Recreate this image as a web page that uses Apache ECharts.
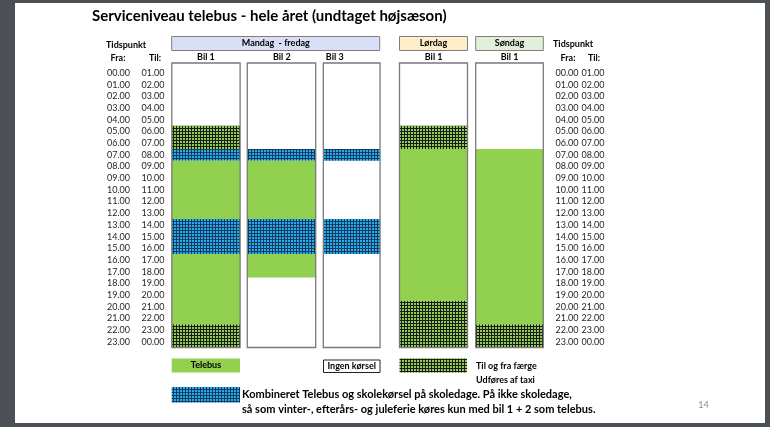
<!DOCTYPE html>
<html><head><meta charset="utf-8">
<script src="https://cdn.jsdelivr.net/npm/echarts@6/dist/echarts.min.js"></script>
<style>html,body{margin:0;padding:0;background:#4b5057}#c{width:770px;height:427px}</style>
</head><body><div id="c"></div>
<script>
// ---------- data ----------
const titleText = 'Serviceniveau telebus - hele året (undtaget højsæson)';
const columnNames = ['Bil 1', 'Bil 2', 'Bil 3', 'Bil 1', 'Bil 1'];
const dayHeaders = ['Mandag  - fredag', 'Lørdag', 'Søndag'];
const hours = [0,1,2,3,4,5,6,7,8,9,10,11,12,13,14,15,16,17,18,19,20,21,22,23];
const fraLabels = ['00.00','01.00','02.00','03.00','04.00','05.00','06.00','07.00','08.00','09.00','10.00','11.00',
                   '12.00','13.00','14.00','15.00','16.00','17.00','18.00','19.00','20.00','21.00','22.00','23.00'];
const tilLabels = ['01.00','02.00','03.00','04.00','05.00','06.00','07.00','08.00','09.00','10.00','11.00','12.00',
                   '13.00','14.00','15.00','16.00','17.00','18.00','19.00','20.00','21.00','22.00','23.00','00.00'];
// segments: [start hour, end hour, type]  type: 'telebus' | 'skole' | 'faerge'
const weekdayBil1 = [[5,7,'faerge'],[7,8,'skole'],[8,13,'telebus'],[13,16,'skole'],[16,22,'telebus'],[22,24,'faerge']];
const weekdayBil2 = [[7,8,'skole'],[8,13,'telebus'],[13,16,'skole'],[16,18,'telebus']];
const weekdayBil3 = [[7,8,'skole'],[13,16,'skole']];
const saturdayBil1 = [[5,7,'faerge'],[7,20,'telebus'],[20,24,'faerge']];
const sundayBil1 = [[7,22,'telebus'],[22,24,'faerge']];
const legendTexts = ['Telebus', 'Ingen kørsel', 'Til og fra færge', 'Udføres af taxi',
  'Kombineret Telebus og skolekørsel på skoledage. På ikke skoledage,',
  'så som vinter-, efterårs- og juleferie køres kun med bil 1 + 2 som telebus.'];
const pageNumber = '14';

// ---------- styling ----------
const FONT = 'Lato';
const Y_MIN = -0.37, Y_MAX = 24;
const COL_W = [68.3, 68.4, 56.7, 68, 67.6];
const COL_OFF = [0, -0.35, -6.05, -0.15, -0.05];
function makePattern(bg, line, size) {
  const c = document.createElement('canvas');
  c.width = size; c.height = size;
  const g = c.getContext('2d');
  g.fillStyle = bg; g.fillRect(0, 0, size, size);
  g.fillStyle = line; g.fillRect(size - 1, 0, 1, size); g.fillRect(0, size - 1, size, 1);
  return { image: c, repeat: 'repeat' };
}
const FILLS = {
  telebus: '#92d050',
  skole: makePattern('#1fb0ec', '#17375e', 3),
  faerge: makePattern('#8fd14f', '#1a1a1a', 3)
};
const TYPES = ['telebus', 'skole', 'faerge'];

const allColumns = [weekdayBil1, weekdayBil2, weekdayBil3, saturdayBil1, sundayBil1];
const segData = [];
allColumns.forEach((segs, ci) => segs.forEach(s => segData.push([ci, s[0], s[1], TYPES.indexOf(s[2])])));

function colRect(api, col, s, e) {
  const a = api.coord([col, s]), b = api.coord([col, e]);
  return { x: a[0] - COL_W[col] / 2 + COL_OFF[col], y: a[1], width: COL_W[col], height: b[1] - a[1] };
}

const chart = echarts.init(document.getElementById('c'));
const txt = (x, y, text, o) => ({ type: 'text', x, y, z: 10, style: Object.assign({ text, fontFamily: FONT, fontSize: 9, fontWeight: 'bold', fill: '#000', align: 'center', verticalAlign: 'middle' }, o || {}) });
const box = (x, y, w, h, fill, stroke) => ({ type: 'rect', z: 5, shape: { x, y, width: w, height: h }, style: { fill, stroke: stroke || null, lineWidth: 1 } });

chart.setOption({
  backgroundColor: '#4b5057',
  animation: false,
  grid: { left: 168, top: 63, width: 379.5, height: 284.5 },
  xAxis: {
    type: 'category', data: columnNames, position: 'top',
    axisLine: { show: false }, axisTick: { show: false }, splitLine: { show: false },
    axisLabel: {
      margin: 1, fontFamily: FONT, fontWeight: 'bold', fontSize: 9, color: '#000',
      formatter: (v, i) => i === 2 ? '{b3|' + v + '}' : v,
      rich: { b3: { padding: [0, 46, 0, 0], fontFamily: FONT, fontWeight: 'bold', fontSize: 9, color: '#000' } }
    }
  },
  yAxis: { type: 'value', inverse: true, min: Y_MIN, max: Y_MAX, show: false },
  graphic: [
    { type: 'rect', z: -100, shape: { x: 15, y: 3, width: 750, height: 420 }, style: { fill: '#ffffff' } },
    txt(92, 16, titleText, { fontSize: 15, align: 'left' }),
    txt(106, 45, 'Tidspunkt', { align: 'left' }),
    txt(118, 58, 'Fra:'), txt(155, 58, 'Til:'),
    txt(553, 44, 'Tidspunkt', { align: 'left' }),
    txt(568, 58, 'Fra:'), txt(594, 58, 'Til:'),
    box(171.7, 36.5, 208, 14, '#d9dff6', '#7f7f7f'),
    box(399.5, 36.5, 68, 14, '#fdeec9', '#7f7f7f'),
    box(475.7, 36.5, 67.6, 14, '#e2efda', '#7f7f7f'),
    txt(275.8, 43.5, dayHeaders[0]), txt(433.5, 43.5, dayHeaders[1]), txt(509.5, 43.5, dayHeaders[2]),
    box(171.7, 358.5, 68.3, 14, FILLS.telebus),
    txt(206, 365.5, legendTexts[0]),
    box(323.5, 360, 56.5, 12.5, '#ffffff', '#222'),
    txt(351.7, 366.3, legendTexts[1]),
    box(399.5, 358.5, 67.5, 14, FILLS.faerge),
    txt(476, 366, legendTexts[2], { align: 'left' }),
    txt(476, 380, legendTexts[3], { align: 'left' }),
    box(171.7, 387, 68.3, 15.5, FILLS.skole),
    txt(242, 394.3, legendTexts[4], { align: 'left', fontSize: 11 }),
    txt(242, 409.3, legendTexts[5], { align: 'left', fontSize: 11 }),
    txt(703.5, 405, pageNumber, { fontWeight: 'normal', fill: '#8a8a8a', fontSize: 9 })
  ],
  series: [
    {
      type: 'custom', name: 'bg', z: 1, clip: false,
      data: columnNames.map((n, i) => [i]),
      renderItem: (p, api) => ({ type: 'rect', shape: colRect(api, api.value(0), Y_MIN, Y_MAX), style: { fill: '#fff' } })
    },
    {
      type: 'custom', name: 'segments', z: 2, clip: false,
      data: segData,
      renderItem: (p, api) => ({ type: 'rect', shape: colRect(api, api.value(0), api.value(1), api.value(2)), style: { fill: FILLS[TYPES[api.value(3)]] } })
    },
    {
      type: 'custom', name: 'border', z: 3, clip: false,
      data: columnNames.map((n, i) => [i]),
      renderItem: (p, api) => ({ type: 'rect', shape: colRect(api, api.value(0), Y_MIN, Y_MAX), style: { fill: null, stroke: '#7a7a7a', lineWidth: 1.3 } })
    },
    {
      type: 'custom', name: 'rowLabels', z: 4, clip: false,
      data: hours.map(h => [0, h]),
      renderItem: (p, api) => {
        const h = api.value(1);
        const y = api.coord([0, h + 0.5])[1];
        const i = p.dataIndex;
        const st = t => ({ text: t, fontFamily: FONT, fontSize: 9, fill: '#262626', align: 'center', verticalAlign: 'middle' });
        return { type: 'group', children: [
          { type: 'text', x: 118.5, y, style: st(fraLabels[i]) },
          { type: 'text', x: 153, y, style: st(tilLabels[i]) },
          { type: 'text', x: 567, y, style: st(fraLabels[i]) },
          { type: 'text', x: 593, y, style: st(tilLabels[i]) }
        ] };
      }
    }
  ]
});
</script></body></html>
